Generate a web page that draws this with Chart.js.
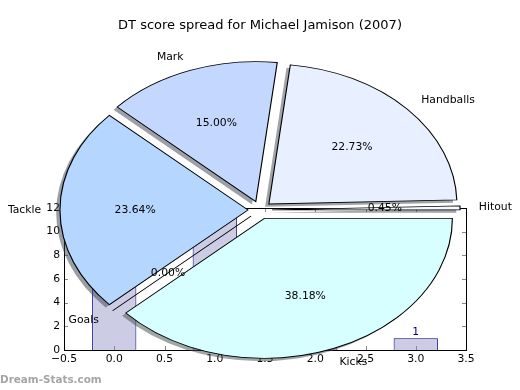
<!DOCTYPE html>
<html>
<head>
<meta charset="utf-8">
<script src="https://cdn.jsdelivr.net/npm/chart.js@4.4.1/dist/chart.umd.min.js"></script>
<style>
  html, body { margin: 0; padding: 0; background: #fff; }
  #wrap { position: relative; width: 520px; height: 390px; }
  #wrap canvas { position: absolute; left: 0; top: 0; }
</style>
</head>
<body>
<div id="wrap">
  <canvas id="barChart" width="520" height="390"></canvas>
  <canvas id="pieChart" width="520" height="390"></canvas>
</div>
<script>
// ---------- DATA ----------
const chartTitle = "DT score spread for Michael Jamison (2007)";

// pie, listed clockwise from 3 o'clock
const sliceLabels = ["Kicks", "Goals", "Tackle", "Mark", "Handballs", "Hitout"];
const slicePoints = [84, 0, 52, 33, 50, 1];
const sliceColors = ["#d8ffff", "#c8dcff", "#b4d6ff", "#c4d8ff", "#e8f0ff", "#f4f8ff"];

// bars behind the pie (mostly hidden)
const barX = [0, 1, 2, 3];
const barCounts = [6, 12, 3, 1];
const barLabels = ["6", "12", "3", "1"];

const xTickMin = -0.5, xTickMax = 3.5, xTickStep = 0.5;
const yTickMin = 0, yTickMax = 12, yTickStep = 2;

// ---------- LOOK ----------
const FONT = "DejaVu Sans";
const explode = 0.064;      // slice offset, fraction of radius
const stretchX = 1.343;     // pie is squashed into an ellipse
const shadowOff = 0.02;

Chart.defaults.font.family = FONT;
Chart.defaults.font.size = 10.8;
Chart.defaults.color = "#000";

function shadowColor(hex) {
    const n = parseInt(hex.slice(1), 16);
    const r = Math.round(((n >> 16) & 255) * 0.3);
    const g = Math.round(((n >> 8) & 255) * 0.3);
    const b = Math.round((n & 255) * 0.3);
    return `rgba(${r},${g},${b},0.5)`;
}

// ---------- BAR CHART (underneath) ----------
const axesFramePlugin = {
    id: "axesFrame",
    afterDatasetsDraw(chart) {
        const { ctx, chartArea: a, scales } = chart;
        ctx.save();

        // value labels over bars
        ctx.fillStyle = "navy";
        ctx.font = `10.8px ${FONT}`;
        ctx.textAlign = "center";
        ctx.textBaseline = "bottom";
        barX.forEach((x, i) => {
            ctx.fillText(barLabels[i],
                scales.x.getPixelForValue(x),
                scales.y.getPixelForValue(barCounts[i]) - 1);
        });

        // inward ticks on all four sides
        ctx.strokeStyle = "#888";
        ctx.lineWidth = 1;
        ctx.beginPath();
        scales.x.ticks.forEach(t => {
            const px = Math.round(scales.x.getPixelForValue(t.value)) + 0.5;
            ctx.moveTo(px, a.bottom); ctx.lineTo(px, a.bottom - 4);
            ctx.moveTo(px, a.top); ctx.lineTo(px, a.top + 4);
        });
        scales.y.ticks.forEach(t => {
            const py = Math.round(scales.y.getPixelForValue(t.value)) + 0.5;
            ctx.moveTo(a.left, py); ctx.lineTo(a.left + 4, py);
            ctx.moveTo(a.right, py); ctx.lineTo(a.right - 4, py);
        });
        ctx.stroke();

        // frame
        ctx.strokeStyle = "#000";
        ctx.strokeRect(Math.round(a.left) + 0.5, Math.round(a.top) + 0.5,
            Math.round(a.right - a.left), Math.round(a.bottom - a.top));
        ctx.restore();
    }
};

new Chart(document.getElementById("barChart"), {
    type: "bar",
    data: {
        datasets: [{
            data: barX.map((x, i) => ({ x, y: barCounts[i] })),
            backgroundColor: "#cccce4",
            borderColor: "navy",
            borderWidth: 1,
            // sample size is the 0.5 tick gap, so 0.88 of it = 0.44 units
            barPercentage: 0.88,
            categoryPercentage: 1
        }]
    },
    plugins: [axesFramePlugin],
    options: {
        responsive: false,
        animation: false,
        events: [],
        layout: { padding: { left: 30, right: 54, top: 208, bottom: 20 } },
        plugins: { legend: { display: false }, tooltip: { enabled: false } },
        scales: {
            x: {
                type: "linear",
                offset: false,
                min: xTickMin,
                max: xTickMax,
                grid: { display: false, drawTicks: false, tickLength: 0, offset: false },
                border: { display: false },
                afterFit(s) { s.height = 20; },
                ticks: {
                    stepSize: xTickStep,
                    autoSkip: false,
                    maxRotation: 0,
                    padding: 3,
                    callback: v => v.toFixed(1).replace("-", "\u2212")
                }
            },
            y: {
                min: yTickMin,
                max: yTickMax,
                grid: { display: false, drawTicks: false, tickLength: 0 },
                border: { display: false },
                afterFit(s) { s.width = 34; },
                ticks: { stepSize: yTickStep, padding: 4 }
            }
        }
    }
});

// ---------- PIE (on top) ----------
const pieDrawPlugin = {
    id: "pieDraw",
    beforeDatasetDraw(chart, args) {
        const ctx = chart.ctx;
        const arcs = args.meta.data;
        const cx = arcs[0].x, cy = arcs[0].y;
        const total = slicePoints.reduce((s, v) => s + v, 0);

        ctx.save();
        ctx.translate(cx, cy);
        ctx.scale(stretchX, 1);
        ctx.translate(-cx, -cy);

        const wedge = (arc, dx, dy) => {
            const R = arc.outerRadius;
            ctx.beginPath();
            ctx.moveTo(arc.x + dx, arc.y + dy);
            ctx.arc(arc.x + dx, arc.y + dy, R, arc.startAngle, arc.endAngle);
            ctx.closePath();
        };

        // shadows first, then wedges
        arcs.forEach((arc, i) => {
            const mid = (arc.startAngle + arc.endAngle) / 2;
            const R = arc.outerRadius;
            const dx = Math.cos(mid) * explode * R - shadowOff * R;
            const dy = Math.sin(mid) * explode * R + shadowOff * R;
            wedge(arc, dx, dy);
            ctx.fillStyle = shadowColor(sliceColors[i]);
            ctx.fill();
        });
        arcs.forEach((arc, i) => {
            const mid = (arc.startAngle + arc.endAngle) / 2;
            const R = arc.outerRadius;
            wedge(arc, Math.cos(mid) * explode * R, Math.sin(mid) * explode * R);
            ctx.fillStyle = sliceColors[i];
            ctx.fill();
            ctx.lineWidth = 0.85;
            ctx.strokeStyle = "#000";
            ctx.stroke();
        });
        ctx.restore();

        // labels and percentages
        ctx.save();
        ctx.fillStyle = "#000";
        ctx.font = `10.8px ${FONT}`;
        ctx.textBaseline = "middle";
        arcs.forEach((arc, i) => {
            const mid = (arc.startAngle + arc.endAngle) / 2;
            const R = arc.outerRadius;
            const at = d => [cx + Math.cos(mid) * (explode + d) * R * stretchX,
                             cy + Math.sin(mid) * (explode + d) * R];
            const [lx, ly] = at(1.1);
            ctx.textAlign = Math.cos(mid) > 0 ? "left" : "right";
            ctx.fillText(sliceLabels[i], lx, ly);
            const [px, py] = at(0.6);
            ctx.textAlign = "center";
            ctx.fillText((100 * slicePoints[i] / total).toFixed(2) + "%", px, py);
        });

        // title
        ctx.font = `13px ${FONT}`;
        ctx.textAlign = "center";
        ctx.fillText(chartTitle, 260, 26);

        // watermark
        ctx.font = `bold 10.4px ${FONT}`;
        ctx.textAlign = "left";
        ctx.fillStyle = "rgb(165,165,165)";
        ctx.fillText("Dream-Stats.com", 0, 380);
        ctx.restore();

        return false;
    }
};

new Chart(document.getElementById("pieChart"), {
    type: "pie",
    data: {
        labels: sliceLabels,
        datasets: [{
            data: slicePoints,
            backgroundColor: sliceColors,
            borderWidth: 0,
            radius: 140
        }]
    },
    plugins: [pieDrawPlugin],
    options: {
        responsive: false,
        animation: false,
        events: [],
        rotation: 90,
        layout: { padding: { left: 120, right: 120, top: 70, bottom: 40 } },
        plugins: { legend: { display: false }, tooltip: { enabled: false } }
    }
});
</script>
</body>
</html>
